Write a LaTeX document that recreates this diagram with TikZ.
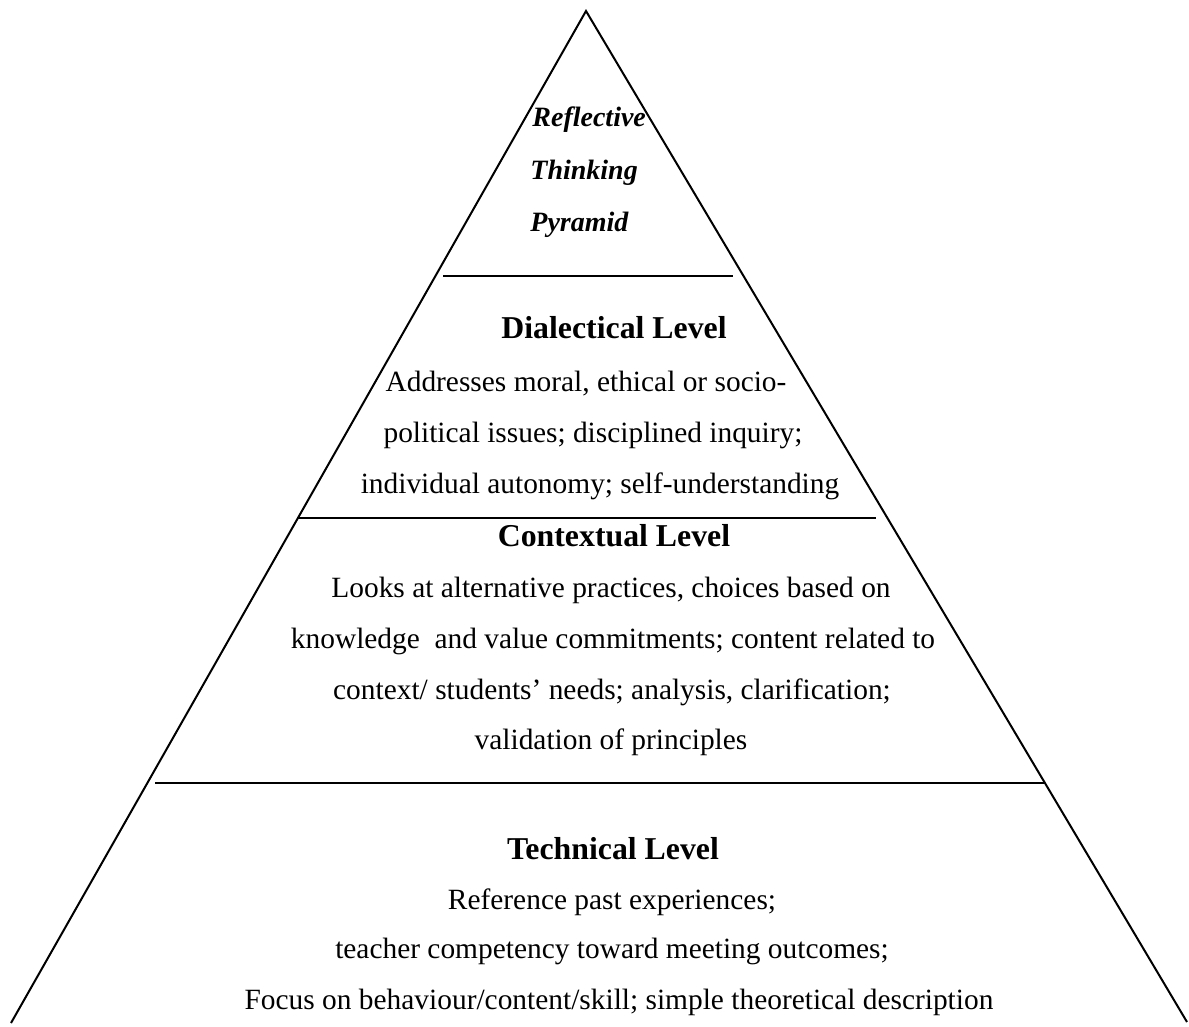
\documentclass[tikz,border=0pt]{standalone}
\usepackage{fontspec}
\setmainfont{Liberation Serif}
\begin{document}
\begin{tikzpicture}[x=0.5pt,y=-0.5pt,
  edge/.style={line width=1pt,black},
  divider/.style={line width=1.2pt,black},
  body/.style={anchor=base,inner sep=0pt,font=\fontsize{14.7}{17}\selectfont},
  heading/.style={anchor=base,inner sep=0pt,font=\fontsize{15.9}{19}\selectfont\bfseries},
  title/.style={anchor=base west,inner sep=0pt,font=\fontsize{14}{17}\selectfont\itshape\bfseries}]
  \useasboundingbox (0,0) rectangle (1189,1027);

  % pyramid outline
  \coordinate (apex) at (586,11);
  \coordinate (bl) at (11,1023);
  \coordinate (br) at (1187,1022);
  \draw[edge] (bl) -- (apex) -- (br);

  % level dividers
  \coordinate (d1l) at (443,276);  \coordinate (d1r) at (733,276);
  \coordinate (d2l) at (298,518);  \coordinate (d2r) at (876,518);
  \coordinate (d3l) at (155,783);  \coordinate (d3r) at (1044,783);
  \draw[divider] (d1l) -- (d1r);
  \draw[divider] (d2l) -- (d2r);
  \draw[divider] (d3l) -- (d3r);

  % title at the top
  \node[title] (t1) at (532,127) {Reflective};
  \node[title] (t2) at (530,180) {Thinking};
  \node[title] (t3) at (530,232) {Pyramid};

  % dialectical level
  \node[heading] (dh) at (614,338) {Dialectical Level};
  \node[body] (da) at (586,391) {Addresses moral, ethical or socio-};
  \node[body] (db) at (593,442) {political issues; disciplined inquiry;};
  \node[body] (dc) at (600,493) {individual autonomy; self-understanding};

  % contextual level
  \node[heading] (ch) at (614,546) {Contextual Level};
  \node[body] (ca) at (611,597) {Looks at alternative practices, choices based on};
  \node[body] (cb) at (613,648) {knowledge\ \ and value commitments; content related to};
  \node[body] (cc) at (612,699) {context/ students’ needs; analysis, clarification;};
  \node[body] (cd) at (611,749) {validation of principles};

  % technical level
  \node[heading] (th) at (613,859) {Technical Level};
  \node[body] (ta) at (612,909) {Reference past experiences;};
  \node[body] (tb) at (612,958) {teacher competency toward meeting outcomes;};
  \node[body] (tc) at (619,1009) {Focus on behaviour/content/skill; simple theoretical description};
\end{tikzpicture}
\end{document}
